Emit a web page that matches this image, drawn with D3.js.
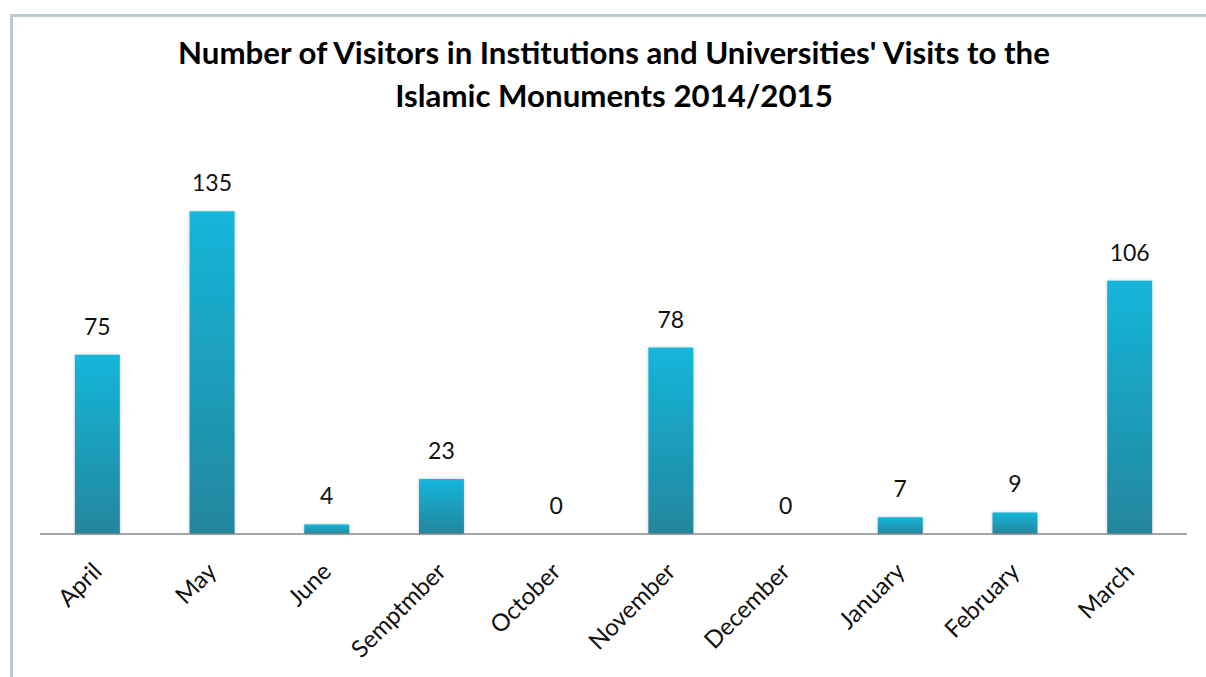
<!DOCTYPE html>
<html>
<head>
<meta charset="utf-8">
<script src="https://cdn.jsdelivr.net/npm/d3@7/dist/d3.min.js"></script>
<style>
  html, body { margin: 0; padding: 0; background: #fff; }
  svg { display: block; }
  text { font-family: Lato, "Open Sans", sans-serif; }
</style>
</head>
<body>
<svg id="chart" width="1206" height="677"></svg>
<script>
const months = ["April", "May", "June", "Semptmber", "October", "November", "December", "January", "February", "March"];
const visitors = [75, 135, 4, 23, 0, 78, 0, 7, 9, 106];
const titleLines = ["Number of Visitors in Institutions and Universities' Visits to the", "Islamic Monuments 2014/2015"];

const W = 1206, H = 677;
const svg = d3.select("#chart");

// frame (top and left rules)
svg.append("line").attr("x1", 10).attr("x2", W).attr("y1", 15.5).attr("y2", 15.5)
  .attr("stroke", "#b9ccd3").attr("stroke-width", 3);
svg.append("line").attr("x1", 11.5).attr("x2", 11.5).attr("y1", 14).attr("y2", H)
  .attr("stroke", "#b9ccd3").attr("stroke-width", 3);

const defs = svg.append("defs");
const grad = defs.append("linearGradient").attr("id", "barGrad")
  .attr("x1", 0).attr("y1", 0).attr("x2", 0).attr("y2", 1);
grad.append("stop").attr("offset", "0%").attr("stop-color", "#15b6da");
grad.append("stop").attr("offset", "100%").attr("stop-color", "#23869d");
const shadow = defs.append("filter").attr("id", "shadow")
  .attr("x", "-20%").attr("y", "-20%").attr("width", "140%").attr("height", "140%");
shadow.append("feDropShadow").attr("dx", 0).attr("dy", 0).attr("stdDeviation", 1.6)
  .attr("flood-color", "#000").attr("flood-opacity", 0.25);

const baseY = 534;
const pxPerUnit = 2.39;
const yMax = 160;
const x = d3.scaleBand().domain(months).range([40, 1187]).paddingInner(0.608).paddingOuter(0.304);
const y = d3.scaleLinear().domain([0, yMax]).range([baseY, baseY - yMax * pxPerUnit]);

// title
const title = svg.append("g");
titleLines.forEach((t, i) => {
  title.append("text")
    .attr("x", 614).attr("y", i === 0 ? 63.5 : 106.5)
    .attr("text-anchor", "middle")
    .attr("font-weight", "bold")
    .attr("font-size", 26)
    .attr("fill", "#000")
    .text(t);
});
// fit title size to reference width
const t0 = title.select("text").node();
const w0 = t0.getComputedTextLength();
const fs = 26 * 872 / w0;
title.selectAll("text").attr("font-size", fs);

// bars
svg.append("g").selectAll("rect")
  .data(months.map((m, i) => ({ m, v: visitors[i] })).filter(d => d.v > 0))
  .join("rect")
  .attr("x", d => x(d.m))
  .attr("width", x.bandwidth())
  .attr("y", d => y(d.v))
  .attr("height", d => y(0) - y(d.v))
  .attr("fill", "url(#barGrad)")
  .attr("filter", "url(#shadow)");

// axis
const axis = svg.append("g").attr("transform", `translate(0,${baseY})`)
  .call(d3.axisBottom(x).tickSize(0).tickPadding(0));
axis.select(".domain").attr("stroke", "#868686").attr("stroke-width", 1.5)
  .attr("d", `M40,0H1187`);
axis.selectAll(".tick text")
  .attr("font-size", 24)
  .attr("fill", "#111")
  .attr("text-anchor", "end")
  .attr("dy", 0)
  .attr("transform", "translate(6,39) rotate(-45)");

// value labels
svg.append("g").selectAll("text")
  .data(months.map((m, i) => ({ m, v: visitors[i] })))
  .join("text")
  .attr("x", d => x(d.m) + x.bandwidth() / 2)
  .attr("y", d => y(d.v) - 20)
  .attr("text-anchor", "middle")
  .attr("font-size", 23)
  .attr("fill", "#111")
  .text(d => d.v);
</script>
</body>
</html>
